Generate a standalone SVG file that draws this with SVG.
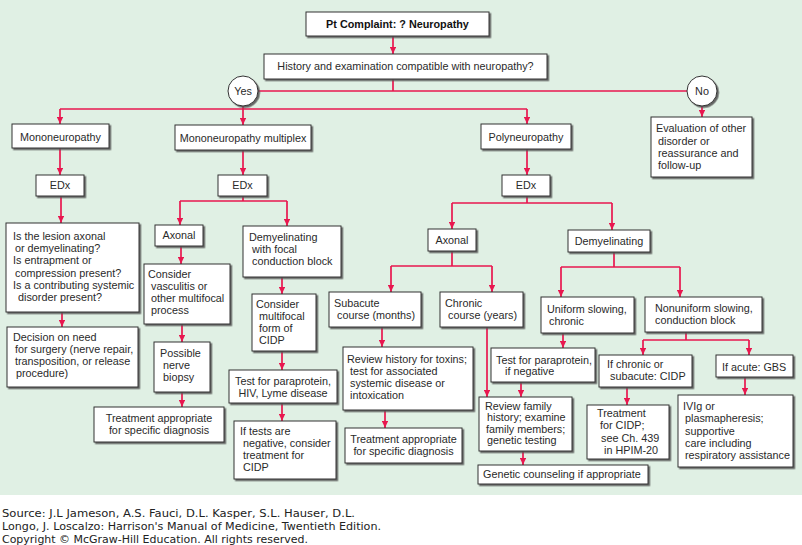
<svg xmlns="http://www.w3.org/2000/svg" width="802" height="545" viewBox="0 0 802 545">
<defs>
<filter id="sh" x="-10%" y="-10%" width="130%" height="140%">
<feDropShadow dx="1.6" dy="1.6" stdDeviation="0.4" flood-color="#555" flood-opacity="0.9"/>
</filter>
<marker id="ah" viewBox="0 0 8 7" markerWidth="7" markerHeight="6.5" refX="8" refY="3.5" orient="auto" markerUnits="userSpaceOnUse">
<path d="M0,0 L8,3.5 L0,7 z" fill="#e8174f"/>
</marker>
<style>
.bx{fill:#fff;stroke:#333;stroke-width:1;filter:url(#sh)}
.t{font-family:"Liberation Sans",Arial,sans-serif;font-size:10.8px;fill:#2a2a2a}
.c{text-anchor:middle}
.b{font-weight:bold;fill:#111}
.ln{fill:none;stroke:#e8174f;stroke-width:1.7}
.ar{fill:none;stroke:#e8174f;stroke-width:1.7;marker-end:url(#ah)}
.src{font-family:"DejaVu Sans",Verdana,sans-serif;font-size:10px;fill:#222}
</style>
</defs>
<rect x="0" y="0" width="802" height="495" fill="#e0f0e4"/>
<rect x="0" y="495" width="802" height="50" fill="#fff"/>

<g id="connectors">
<path class="ar" d="M393,36 V54"/>
<path class="ln" d="M393,79 V91"/>
<path class="ln" d="M258,91 H687"/>
<path class="ln" d="M243,106 V109"/>
<path class="ln" d="M60,109 H527"/>
<path class="ar" d="M60,109 V124"/>
<path class="ar" d="M243,109 V125"/>
<path class="ar" d="M527,109 V124"/>
<path class="ar" d="M702,106 V117"/>
<path class="ar" d="M60,148 V175"/>
<path class="ar" d="M243,150 V175"/>
<path class="ar" d="M527,149 V175"/>
<path class="ar" d="M61,196 V223"/>
<path class="ar" d="M62,312 V327"/>
<path class="ln" d="M243,196 V201"/>
<path class="ln" d="M180,201 H287"/>
<path class="ar" d="M180,201 V225"/>
<path class="ar" d="M287,201 V226"/>
<path class="ar" d="M181,246 V264"/>
<path class="ar" d="M182,324 V342"/>
<path class="ar" d="M182,392 V407"/>
<path class="ar" d="M282,277 V294"/>
<path class="ar" d="M282,351 V370"/>
<path class="ar" d="M282,403 V421"/>
<path class="ln" d="M527,196 V203"/>
<path class="ln" d="M452,203 H612"/>
<path class="ar" d="M452,203 V229"/>
<path class="ar" d="M612,203 V230"/>
<path class="ln" d="M452,251 V266"/>
<path class="ln" d="M391,266 H492"/>
<path class="ar" d="M391,266 V292"/>
<path class="ar" d="M492,266 V292"/>
<path class="ar" d="M382,327 V347"/>
<path class="ar" d="M385,410 V428"/>
<path class="ar" d="M487,327 V397"/>
<path class="ln" d="M614,252 V267"/>
<path class="ln" d="M561,267 H680"/>
<path class="ar" d="M561,267 V297"/>
<path class="ar" d="M680,267 V297"/>
<path class="ar" d="M563,333 V348"/>
<path class="ar" d="M521,382 V397"/>
<path class="ar" d="M523,451 V465"/>
<path class="ln" d="M686,332 V340"/>
<path class="ln" d="M643,340 H749"/>
<path class="ar" d="M643,340 V355"/>
<path class="ar" d="M749,340 V355"/>
<path class="ar" d="M627,387 V405"/>
<path class="ar" d="M745,377 V395"/>
</g>

<g id="n-complaint"><rect class="bx" x="306" y="12" width="183" height="24"/><text class="t c b" x="397.5" y="28">Pt Complaint: ? Neuropathy</text></g>
<g id="n-history"><rect class="bx" x="264" y="54" width="283" height="25"/><text class="t c" x="405.5" y="70">History and examination compatible with neuropathy?</text></g>
<g id="n-yes"><circle class="bx" cx="243" cy="91" r="15"/><text class="t c" x="243" y="95">Yes</text></g>
<g id="n-no"><circle class="bx" cx="702" cy="91" r="15"/><text class="t c" x="702" y="95">No</text></g>
<g id="n-mono"><rect class="bx" x="12" y="124" width="97" height="24"/><text class="t c" x="60.5" y="141">Mononeuropathy</text></g>
<g id="n-multiplex"><rect class="bx" x="175" y="125" width="136" height="25"/><text class="t c" x="243" y="142">Mononeuropathy multiplex</text></g>
<g id="n-poly"><rect class="bx" x="481" y="124" width="90" height="25"/><text class="t c" x="526" y="141">Polyneuropathy</text></g>
<g id="n-eval"><rect class="bx" x="651" y="117" width="101" height="60"/><text class="t"><tspan x="656" y="132">Evaluation of other</tspan><tspan x="658" y="145">disorder or</tspan><tspan x="658" y="157">reassurance and</tspan><tspan x="658" y="169">follow-up</tspan></text></g>
<g id="n-edx1"><rect class="bx" x="36" y="175" width="48" height="21"/><text class="t c" x="60" y="189">EDx</text></g>
<g id="n-edx2"><rect class="bx" x="218" y="175" width="49" height="21"/><text class="t c" x="242.5" y="189">EDx</text></g>
<g id="n-edx3"><rect class="bx" x="502" y="175" width="48" height="21"/><text class="t c" x="526" y="189">EDx</text></g>
<g id="n-question"><rect class="bx" x="6" y="223" width="133" height="89"/><text class="t"><tspan x="13" y="240">Is the lesion axonal</tspan><tspan x="15" y="252">or demyelinating?</tspan><tspan x="13" y="264">Is entrapment or</tspan><tspan x="15" y="277">compression present?</tspan><tspan x="13" y="289">Is a contributing systemic</tspan><tspan x="18" y="301">disorder present?</tspan></text></g>
<g id="n-decision"><rect class="bx" x="7" y="327" width="131" height="60"/><text class="t"><tspan x="13" y="341">Decision on need</tspan><tspan x="15" y="353">for surgery (nerve repair,</tspan><tspan x="15" y="365">transposition, or release</tspan><tspan x="16" y="377">procedure)</tspan></text></g>
<g id="n-axonal-m"><rect class="bx" x="155" y="225" width="48" height="21"/><text class="t c" x="179" y="239">Axonal</text></g>
<g id="n-vasculitis"><rect class="bx" x="144" y="264" width="86" height="60"/><text class="t"><tspan x="148" y="278">Consider</tspan><tspan x="151" y="290">vasculitis or</tspan><tspan x="151" y="302">other multifocal</tspan><tspan x="151" y="314">process</tspan></text></g>
<g id="n-biopsy"><rect class="bx" x="154" y="342" width="56" height="50"/><text class="t"><tspan x="160" y="357">Possible</tspan><tspan x="163" y="369">nerve</tspan><tspan x="163" y="381">biopsy</tspan></text></g>
<g id="n-treat-l"><rect class="bx" x="94" y="407" width="130" height="35"/><text class="t c"><tspan x="159" y="422">Treatment appropriate</tspan><tspan x="159" y="434">for specific diagnosis</tspan></text></g>
<g id="n-demyel-focal"><rect class="bx" x="243" y="226" width="98" height="51"/><text class="t"><tspan x="249" y="241">Demyelinating</tspan><tspan x="252" y="253">with focal</tspan><tspan x="252" y="265">conduction block</tspan></text></g>
<g id="n-multifocal"><rect class="bx" x="252" y="294" width="64" height="57"/><text class="t"><tspan x="256" y="308">Consider</tspan><tspan x="259" y="320">multifocal</tspan><tspan x="259" y="332">form of</tspan><tspan x="259" y="344">CIDP</tspan></text></g>
<g id="n-test-hiv"><rect class="bx" x="229" y="370" width="108" height="33"/><text class="t c"><tspan x="283" y="385">Test for paraprotein,</tspan><tspan x="283" y="397">HIV, Lyme disease</tspan></text></g>
<g id="n-iftests"><rect class="bx" x="234" y="421" width="102" height="58"/><text class="t"><tspan x="240" y="435">If tests are</tspan><tspan x="243" y="447">negative, consider</tspan><tspan x="243" y="459">treatment for</tspan><tspan x="243" y="471">CIDP</tspan></text></g>
<g id="n-axonal-p"><rect class="bx" x="428" y="229" width="48" height="22"/><text class="t c" x="452" y="244">Axonal</text></g>
<g id="n-subacute"><rect class="bx" x="329" y="292" width="92" height="35"/><text class="t"><tspan x="334" y="307">Subacute</tspan><tspan x="337" y="319">course (months)</tspan></text></g>
<g id="n-chronic"><rect class="bx" x="440" y="292" width="83" height="35"/><text class="t"><tspan x="445" y="307">Chronic</tspan><tspan x="448" y="319">course (years)</tspan></text></g>
<g id="n-review-hist"><rect class="bx" x="343" y="347" width="130" height="63"/><text class="t"><tspan x="347" y="363">Review history for toxins;</tspan><tspan x="350" y="375">test for associated</tspan><tspan x="350" y="387">systemic disease or</tspan><tspan x="350" y="399">intoxication</tspan></text></g>
<g id="n-treat-r"><rect class="bx" x="345" y="428" width="117" height="35"/><text class="t c"><tspan x="403.5" y="443">Treatment appropriate</tspan><tspan x="403.5" y="455">for specific diagnosis</tspan></text></g>
<g id="n-review-family"><rect class="bx" x="479" y="397" width="93" height="54"/><text class="t"><tspan x="485" y="410">Review family</tspan><tspan x="487" y="421">history; examine</tspan><tspan x="486" y="433">family members;</tspan><tspan x="487" y="444">genetic testing</tspan></text></g>
<g id="n-genetic"><rect class="bx" x="478" y="465" width="170" height="19"/><text class="t" x="483" y="478">Genetic counseling if appropriate</text></g>
<g id="n-demyel-p"><rect class="bx" x="568" y="230" width="82" height="22"/><text class="t c" x="609" y="245">Demyelinating</text></g>
<g id="n-uniform"><rect class="bx" x="541" y="297" width="93" height="36"/><text class="t"><tspan x="547" y="313">Uniform slowing,</tspan><tspan x="549" y="325">chronic</tspan></text></g>
<g id="n-test-neg"><rect class="bx" x="491" y="348" width="104" height="34"/><text class="t"><tspan x="496" y="364">Test for paraprotein,</tspan><tspan x="505" y="375">if negative</tspan></text></g>
<g id="n-nonuniform"><rect class="bx" x="645" y="297" width="117" height="35"/><text class="t"><tspan x="655" y="312">Nonuniform slowing,</tspan><tspan x="655" y="324">conduction block</tspan></text></g>
<g id="n-ifchronic"><rect class="bx" x="599" y="355" width="93" height="32"/><text class="t"><tspan x="607" y="368">If chronic or</tspan><tspan x="610" y="380">subacute: CIDP</tspan></text></g>
<g id="n-treat-cidp"><rect class="bx" x="587" y="405" width="82" height="54"/><text class="t"><tspan x="597" y="417">Treatment</tspan><tspan x="600" y="429">for CIDP;</tspan><tspan x="601" y="442">see Ch. 439</tspan><tspan x="604" y="454">in HPIM-20</tspan></text></g>
<g id="n-acute"><rect class="bx" x="716" y="355" width="77" height="22"/><text class="t" x="722" y="371">If acute: GBS</text></g>
<g id="n-ivig"><rect class="bx" x="678" y="395" width="115" height="72"/><text class="t"><tspan x="683" y="410">IVIg or</tspan><tspan x="685" y="422">plasmapheresis;</tspan><tspan x="685" y="435">supportive</tspan><tspan x="685" y="447">care including</tspan><tspan x="685" y="459">respiratory assistance</tspan></text></g>

<g id="source">
<text class="src" x="2" y="517" textLength="353" lengthAdjust="spacingAndGlyphs">Source: J.L Jameson, A.S. Fauci, D.L. Kasper, S.L. Hauser, D.L.</text>
<text class="src" x="2" y="530" textLength="379" lengthAdjust="spacingAndGlyphs">Longo, J. Loscalzo: Harrison's Manual of Medicine, Twentieth Edition.</text>
<text class="src" x="2" y="543" textLength="306" lengthAdjust="spacingAndGlyphs">Copyright © McGraw-Hill Education. All rights reserved.</text>
</g>
</svg>
